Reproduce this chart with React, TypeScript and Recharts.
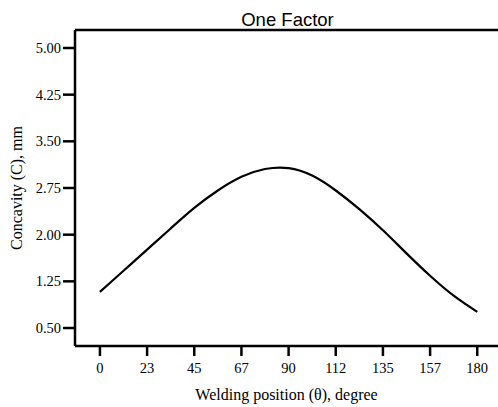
import { Label, Line, LineChart, ReferenceLine, XAxis, YAxis } from "recharts";

// welding position (deg) vs concavity (mm)
const positions = [0, 11.25, 22.5, 33.75, 45, 56.25, 67.5, 78.75, 90, 101.25, 112.5, 123.75, 135, 146.25, 157.5, 168.75, 180];
const concavity = [1.08, 1.42, 1.76, 2.1, 2.43, 2.71, 2.93, 3.055, 3.07, 2.95, 2.71, 2.41, 2.07, 1.7, 1.34, 1.02, 0.76];

const xTicks = [0, 22.5, 45, 67.5, 90, 112.5, 135, 157.5, 180];
const xTickLabels = ["0", "23", "45", "67", "90", "112", "135", "157", "180"];
const yTicks = [0.5, 1.25, 2.0, 2.75, 3.5, 4.25, 5.0];

const xDomain = [-11.9, 189.9];
const yDomain = [0.211, 5.289];

const data = positions.map((p, i) => ({ pos: p, c: concavity[i] }));

const serif = "'Liberation Serif', 'Times New Roman', serif";
const tickStyle = { fill: "#000", fontSize: 14.5, fontFamily: serif };
const axisStroke = { stroke: "#000", strokeWidth: 2.5 };

export default function App() {
  return (
    <div style={{ position: "absolute", left: 0, top: 0, width: 498, height: 407, background: "#fff" }}>
      <LineChart width={498} height={407} data={data} margin={{ top: 30, right: 0, bottom: 0, left: 0 }}>
        <text x={287.5} y={25.5} textAnchor="middle" fontFamily="'Liberation Sans', Arial, sans-serif" fontSize={18.5} fill="#000">
          One Factor
        </text>
        <XAxis
          dataKey="pos"
          type="number"
          domain={xDomain}
          ticks={xTicks}
          tickFormatter={(v: number) => xTickLabels[xTicks.indexOf(v)] ?? String(v)}
          height={61}
          tickSize={10}
          tickMargin={7}
          tick={tickStyle}
          axisLine={axisStroke}
          tickLine={axisStroke}
          allowDataOverflow
        >
          <Label value="Welding position (θ), degree" position="insideBottom" offset={7} style={{ fill: "#000", fontSize: 16, fontFamily: serif }} />
        </XAxis>
        <YAxis
          type="number"
          domain={yDomain}
          ticks={yTicks}
          tickFormatter={(v: number) => v.toFixed(2)}
          width={75}
          tickSize={12}
          tickMargin={2}
          tick={tickStyle}
          axisLine={axisStroke}
          tickLine={axisStroke}
          allowDataOverflow
        >
          <Label
            value="Concavity (C), mm"
            angle={-90}
            position="insideLeft"
            offset={16}
            style={{ fill: "#000", fontSize: 16, fontFamily: serif, textAnchor: "middle" }}
          />
        </YAxis>
        <ReferenceLine y={yDomain[1]} stroke="#000" strokeWidth={2.5} ifOverflow="visible" />
        <Line
          type="natural"
          dataKey="c"
          stroke="#000"
          strokeWidth={2.2}
          dot={false}
          isAnimationActive={false}
        />
      </LineChart>
    </div>
  );
}
